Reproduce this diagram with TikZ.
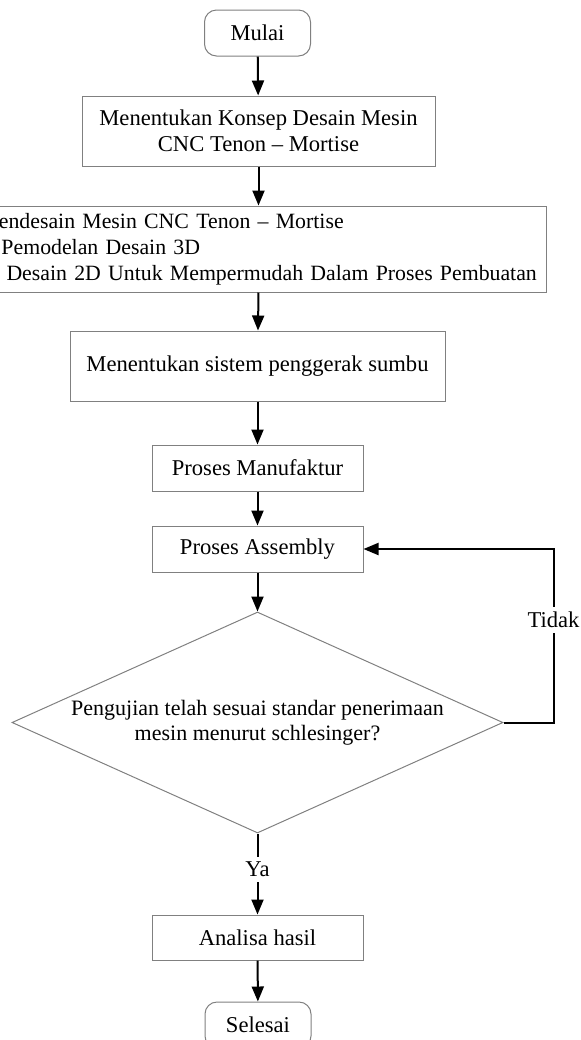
\documentclass[tikz,border=0pt]{standalone}
\usepackage{fontspec}
\setmainfont{Liberation Serif}
\usetikzlibrary{arrows.meta,shapes.geometric}

\begin{document}
\begin{tikzpicture}[x=0.5pt,y=-0.5pt,
  every node/.style={font=\fontsize{11.3}{13}\selectfont},
  proses/.style={draw=black!50,line width=0.5pt,align=center,inner sep=0pt},
  terminal/.style={proses,rounded corners=6pt,minimum width=53pt,minimum height=23pt},
  keputusan/.style={diamond,draw=black!50,line width=0.5pt,align=center,inner sep=0pt,
    aspect=2.2,minimum width=245.5pt,minimum height=110.5pt},
  panah/.style={line width=1pt,-{Triangle[length=7.5pt,width=6pt]}},
  ket/.style={fill=white,inner xsep=1pt,inner ysep=2.5pt}]
  \useasboundingbox (0,0) rectangle (580,1040);
  % alur utama
  \node[terminal] (mulai) at (257.5,33) {Mulai};
  \node[proses,minimum width=176.5pt,minimum height=35pt] (konsep) at (258.5,131)
    {Menentukan Konsep Desain Mesin\\CNC Tenon -- Mortise};
  \node[proses,anchor=east,text width=283.5pt,align=left,minimum height=43pt,
    font=\fontsize{10.9}{13}\selectfont] (desain) at (547,249)
    {\mbox{Mendesain Mesin CNC Tenon -- Mortise}\\
     \mbox{\hspace*{11pt}Pemodelan Desain 3D}\\
     \mbox{\hspace*{13.5pt}Desain 2D Untuk Mempermudah Dalam Proses Pembuatan}};
  \node[proses,minimum width=187.5pt,minimum height=35pt] (sistem) at (257.5,366)
    {Menentukan sistem penggerak sumbu};
  \node[proses,minimum width=105.5pt,minimum height=23pt] (manufaktur) at (257.5,468) {Proses Manufaktur};
  \node[proses,minimum width=105.5pt,minimum height=23pt] (assembly) at (257.5,549) {Proses Assembly};
  \node[keputusan,font=\fontsize{11}{12.5}\selectfont] (uji) at (257.5,722.5)
    {Pengujian telah sesuai standar penerimaan\\mesin menurut schlesinger?};
  \node[proses,minimum width=105.5pt,minimum height=22.5pt] (analisa) at (257.5,937.5) {Analisa hasil};
  \node[terminal] (selesai) at (258,1025) {Selesai};
  % panah
  \draw[panah] (mulai) -- (konsep);
  \draw[panah] (konsep.south) -- (konsep.south |- desain.north);
  \draw[panah] (konsep.south |- desain.south) -- (sistem);
  \draw[panah] (sistem) -- (manufaktur);
  \draw[panah] (manufaktur) -- (assembly);
  \draw[panah] (assembly) -- (uji);
  \draw[panah] (uji.south) -- node[ket,pos=0.44] (ya) {Ya} (analisa.north);
  \draw[panah] (analisa) -- (selesai);
  % umpan balik
  \draw[panah] (uji.east) -- ++(50,0) |- node[ket,pos=0.295] (tidak) {Tidak} (assembly.east);
\end{tikzpicture}
\end{document}
